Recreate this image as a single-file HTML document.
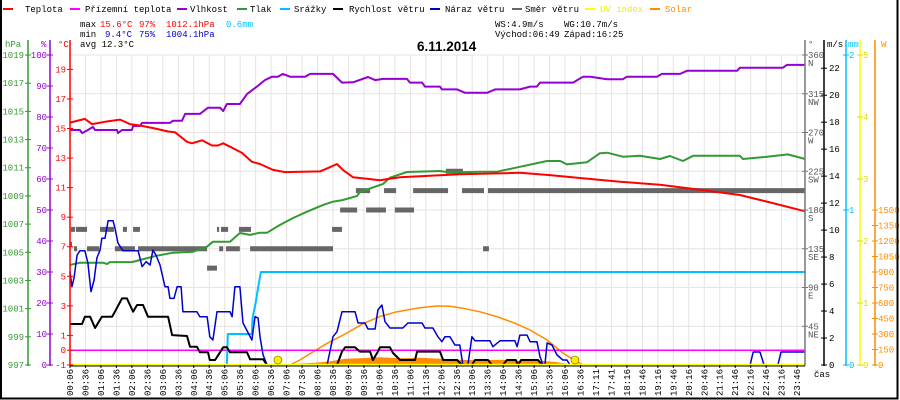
<!DOCTYPE html>
<html><head><meta charset="utf-8"><style>
html,body{margin:0;padding:0;background:#fff}
svg{display:block}
text{font-family:"Liberation Mono",monospace;font-size:9px}
</style></head><body>
<svg id="chart" width="900" height="400" viewBox="0 0 900 400" xmlns="http://www.w3.org/2000/svg">
<g id="grid"></g>
<g id="series"></g>
<g id="axes"></g>
<g id="legend">
  <g><rect x="3" y="8" width="10" height="2" fill="#f00"/><text x="25" y="12">Teplota</text></g>
  <g><rect x="70" y="8" width="10" height="2" fill="#f0f"/><text x="85" y="12">Přízemní teplota</text></g>
  <g><rect x="177" y="8" width="10" height="2" fill="#9400d3"/><text x="190" y="12">Vlhkost</text></g>
  <g><rect x="237" y="8" width="10" height="2" fill="#339933"/><text x="250" y="12">Tlak</text></g>
  <g><rect x="280" y="8" width="10" height="2" fill="#00bfff"/><text x="294" y="12">Srážky</text></g>
  <g><rect x="333" y="8" width="10" height="2" fill="#000"/><text x="349" y="12">Rychlost větru</text></g>
  <g><rect x="430" y="8" width="10" height="2" fill="#0000cc"/><text x="445" y="12">Náraz větru</text></g>
  <g><rect x="512" y="8" width="10" height="2" fill="#666"/><text x="525" y="12">Směr větru</text></g>
  <g><rect x="585" y="8" width="10" height="2" fill="#ff0"/><text x="600" y="12" fill="#ee0">UV index</text></g>
  <g><rect x="650" y="8" width="10" height="2" fill="#ff8c00"/><text x="665" y="12" fill="#ff8c00">Solar</text></g>
</g>
<g>
  <text x="80" y="27">max</text><text x="100" y="27" fill="#f00">15.6°C</text><text x="139" y="27" fill="#f00">97%</text><text x="166" y="27" fill="#f00">1012.1hPa</text><text x="226" y="27" fill="#00bfff">0.6mm</text>
  <text x="80" y="37">min</text><text x="105" y="37" fill="#0000cc">9.4°C</text><text x="139" y="37" fill="#0000cc">75%</text><text x="166" y="37" fill="#0000cc">1004.1hPa</text>
  <text x="80" y="47">avg 12.3°C</text>
  <text x="495" y="27">WS:4.9m/s</text><text x="564" y="27">WG:10.7m/s</text>
  <text x="495" y="37">Východ:06:49</text><text x="564" y="37">Západ:16:25</text>
</g>
<text x="417" y="51" style="font-family:'Liberation Sans',sans-serif;font-weight:bold;font-size:13.5px">6.11.2014</text>
<text x="814" y="377">čas</text>
<path d="M1,0V398.5H897.5V0" fill="none" stroke="#000" stroke-width="2"/>
</svg>
<script>
// ---- data ----
const timeLabels = ["00:06","00:36","01:06","01:36","02:06","02:36","03:06","03:36","04:06","04:36","05:06","05:36","06:06","06:36","07:06","07:36","08:06","08:36","09:06","09:36","10:06","10:36","11:06","11:36","12:06","12:36","13:06","13:36","14:06","14:36","15:06","15:36","16:06","16:36","17:11","17:41","18:16","18:46","19:16","19:46","20:16","20:46","21:16","21:46","22:16","22:46","23:16","23:46"];
const tempT = [0.1,0.58,0.81,1.23,1.72,2.04,2.36,2.85,3.27,3.49,3.88,4.04,4.37,4.69,4.88,5.05,5.34,5.66,5.98,6.24,6.66,7.05,8.18,8.41,8.73,8.92,9.25,10.12,10.77,12.7,14.64,15.61,16.58,17.88,19.17,20.46,21.75,22.72,23.86];
const tempV = [15.4,15.65,15.3,15.45,15.6,15.3,15.2,15.0,14.8,14.75,14.1,14.0,14.2,13.85,13.85,14.0,13.7,13.35,12.75,12.6,12.2,12.05,12.1,12.3,12.6,12.2,11.7,11.5,11.7,11.9,12.0,11.85,11.65,11.4,11.2,10.85,10.5,10.0,9.4];
const groundT = [0.1,23.86];
const groundV = [0,0];
const humT = [0.1,0.42,0.49,0.68,0.84,0.91,1.62,1.65,1.78,2.1,2.14,2.36,2.43,3.33,3.43,3.72,3.82,4.3,4.56,4.95,5.05,5.17,5.59,5.82,6.14,6.4,6.63,6.82,6.98,7.21,7.7,7.86,8.6,8.89,9.25,9.73,9.96,10.22,10.99,11.09,11.48,11.57,12.06,12.12,12.61,12.87,13.58,13.84,14.64,14.97,15.19,15.29,16.36,16.68,16.91,17.46,17.97,18.1,19.07,19.23,19.82,20.04,21.66,21.75,23.14,23.27,23.86];
const humV = [75.8,75.8,74.8,75.8,76.8,75.8,75.8,74.8,75.8,75.8,77.1,77.1,78.1,78.1,78.8,78.8,81,81,83,83,81.9,84.2,84.2,87.4,89.8,91.9,93,93,93.9,93,93,93.9,93.9,91.1,91.2,92.9,91.9,92.3,92.3,91.1,91.1,89.8,89.8,88.9,88.9,87.8,87.8,88.9,88.9,89.8,89.8,91.1,91.1,93,93,92.2,92.2,93,93,93.9,93.9,94.9,94.9,95.9,95.9,96.8,96.8];
const presT = [0.1,0.42,1.17,1.3,1.39,2.1,2.36,2.91,3.43,4.08,4.53,4.72,5.27,5.59,5.92,6.24,6.47,6.89,7.31,7.76,8.28,8.6,8.92,9.38,9.47,10.22,10.44,10.99,12.06,12.38,13.35,13.9,14.64,15.52,15.94,16.16,16.81,17.23,17.46,17.97,18.52,19.17,19.49,19.91,20.24,21.75,21.85,22.56,23.3,23.86];
const presV = [1004.1,1004.26,1004.26,1004.17,1004.3,1004.3,1004.45,1004.76,1004.97,1005.04,1005.4,1005.75,1005.75,1006.37,1006.23,1006.39,1006.39,1006.94,1007.43,1007.88,1008.36,1008.59,1008.71,1009.0,1009.28,1009.85,1010.29,1010.7,1010.77,1010.66,1010.72,1010.72,1011.07,1011.48,1011.48,1011.24,1011.39,1012.03,1012.07,1011.78,1011.85,1011.62,1011.83,1011.48,1011.85,1011.85,1011.62,1011.76,1011.95,1011.62];
const rainT = [0.1,5.17,5.2,5.98,6.0,6.1,6.18,6.27,23.86];
const rainV = [0,0,0.2,0.2,0.3,0.4,0.5,0.6,0.6];
const windT = [0.1,0.49,0.58,0.75,0.91,1.13,1.46,1.55,1.78,1.94,2.14,2.27,2.46,2.62,3.27,3.4,3.88,3.98,4.2,4.3,4.56,4.62,4.79,5.05,5.17,5.27,5.82,5.92,6.34,6.47,8.73,8.89,8.99,9.31,9.47,9.8,9.89,10.05,10.12,10.44,10.54,10.77,11.25,11.32,12.06,12.16,12.61,12.77,13.09,13.19,13.61,13.74,14.09,14.22,14.51,14.58,14.68,15.23,15.36,23.86];
const windV = [3.04,3.04,3.58,3.58,2.74,3.58,3.58,3.95,4.94,4.94,3.95,4.45,4.45,3.58,3.58,2.22,2.15,1.36,1.36,0.94,0.94,0.37,0.37,1.31,1.31,0.94,0.94,0.42,0.42,0,0,0.99,1.31,1.31,0.99,0.99,0.37,0.99,1.31,1.31,0.89,0.37,0.37,0.99,0.99,0.37,0.37,0,0,0.37,0.37,0,0,0.37,0.37,0,0.37,0.37,0,0];
const gustT = [0.1,0.16,0.23,0.33,0.42,0.58,0.68,0.78,0.88,0.97,1.07,1.13,1.23,1.33,1.49,1.55,1.65,1.81,2.3,2.43,2.56,2.69,2.78,2.88,3.01,3.17,3.27,3.33,3.46,3.56,3.69,3.75,4.2,4.3,4.53,4.62,4.72,4.85,5.27,5.34,5.43,5.59,5.69,5.98,6.08,6.18,6.24,6.34,6.47,8.41,8.6,8.73,8.89,9.31,9.41,9.63,9.73,9.96,10.05,10.18,10.28,10.44,10.86,11.02,11.48,11.57,11.83,11.99,12.12,12.22,12.38,12.54,12.7,12.8,12.96,13.09,13.19,13.67,13.77,14.0,14.48,14.55,14.64,14.87,14.97,15.19,15.29,15.39,15.45,15.52,15.68,15.84,16.03,16.16,16.26,22.08,22.18,22.4,22.53,22.98,23.08,23.86];
const gustV = [6.92,5.8,6.45,8.15,8.47,8.47,7.56,5.43,6.3,7.93,8.52,9.39,9.39,10.7,10.7,10.16,9.04,8.47,8.47,7.29,7.66,7.41,8.52,8.15,7.41,5.8,5.8,4.94,4.94,5.8,5.8,3.95,3.95,3.58,3.58,2.1,1.85,3.95,3.95,3.58,5.8,5.8,3.11,1.85,3.58,3.48,2.1,0.74,0,0,2.1,2.47,3.95,3.95,3.11,3.11,2.67,2.67,4.08,4.45,3.21,2.74,2.74,3.11,3.11,2.74,2.74,2.1,1.73,2.1,2.1,1.48,1.48,0,0,2.1,1.8,1.8,1.36,1.8,1.8,1.36,2.22,2.22,1.73,1.73,0.62,0,0,1.63,1.48,0.74,0.37,0.37,0,0,0.96,0.96,0,0,0.96,0.96];
const dirStart = [0.13,0.29,1.07,1.81,2.14,4.85,4.98,5.56,8.57,0.1,0.23,0.65,1.55,2.3,4.92,5.14,5.92,13.45,4.53,8.83,9.67,10.6,9.34,10.25,11.19,12.77,13.61,12.25];
const dirEnd   = [0.26,0.65,1.52,1.94,2.36,4.92,5.21,5.95,8.89,0.16,0.33,1.04,2.2,4.53,5.05,5.59,8.6,13.64,4.85,9.38,10.31,11.22,9.8,10.64,12.32,13.48,23.86,12.8];
const dirDeg   = [157.5,157.5,157.5,157.5,157.5,157.5,157.5,157.5,157.5,140,135,135,135,135,135,135,135,135,112.5,180,180,180,202.5,202.5,202.5,202.5,202.5,225];
const solarT = [7.21,7.53,7.96,8.41,8.99,9.57,10.12,10.67,11.41,11.96,12.38,12.8,13.35,13.9,14.48,14.97,15.52,16.03,16.49,16.68];
const solarV = [0,48,129,210,300,400,470,516,555,571,568,549,515,468,405,339,242,116,32,0];
const solar2T = [7.2,7.53,8.02,8.5,8.99,9.47,10.12,10.77,11.41,12.06,12.7,13.35,13.99,14.64,15.29,15.77,16.1,16.42];
const solar2V = [0,15,22,35,60,66,75,66,70,60,50,45,50,40,40,30,15,0];
const uvT = [0.1,23.86];
const uvV = [0,0];
const sunEvents = [6.82,16.42];
const tempTicks = [-1,0,1,3,5,7,9,11,13,15,17,19];
const humTicks = [0,10,20,30,40,50,60,70,80,90,100];
const presTicks = [997,999,1001,1003,1005,1007,1009,1011,1013,1015,1017,1019];
const dirTicks = [45,90,135,180,225,270,315,360];
const dirNames = ["NE","E","SE","S","SW","W","NW","N"];
const windTicks = [0,2,4,6,8,10,12,14,16,18,20,22];
const rainTicks = [0,1,2];
const uvTicks = [0,1,2,3,4,5];
const solarTicks = [0,150,300,450,600,750,900,1050,1200,1350,1500];

// ---- scales ----
const X = h => 70 + (h - 0.1) * 30.94;
const yT = t => 350.2 - t * 14.78;
const yH = p => 365 - p * 3.1;
const yP = v => 365 - (v - 997) * 14.09;
const yW = v => 365 - v * 13.49;
const yD = d => 365 - d * 0.8611;
const yR = v => 365 - v * 155;
const yU = v => 365 - v * 62;
const yS = v => 365 - v * 0.10333;

const NS = "http://www.w3.org/2000/svg";
const gGrid = document.getElementById('grid');
const gSer = document.getElementById('series');
const gAx = document.getElementById('axes');
function mk(tag, attrs, parent) {
  const e = document.createElementNS(NS, tag);
  for (const k in attrs) e.setAttribute(k, attrs[k]);
  parent.appendChild(e);
  return e;
}
function pts(ts, vs, fy) { return ts.map((t, i) => X(t).toFixed(1) + ',' + fy(vs[i]).toFixed(1)).join(' '); }

// grid
for (let k = 0; k <= 8; k++) {
  const l = mk('line', {x1: 70, x2: 805, y1: 55 + k * 38.75, y2: 55 + k * 38.75, stroke: '#e8e2e2', 'stroke-width': 1}, gGrid);
  
  
}
timeLabels.forEach((lab, i) => {
  const x = 70 + i * 15.47;
  const l = mk('line', {x1: x, x2: x, y1: 55, y2: 365, stroke: '#e8e2e2', 'stroke-width': 1}, gGrid);
  
  
  const tk = mk('line', {x1: x, x2: x, y1: 365, y2: 368, stroke: '#000'}, gAx);
  
  
  const tx = mk('text', {x: 0, y: 0, transform: 'translate(' + (x + 3) + ',369) rotate(-90)', 'text-anchor': 'end'}, gAx);
  tx.textContent = lab;
  
  
});

// series
const fill2 = mk('polygon', {points: pts(solar2T, solar2V, yS) + ' ' + X(solar2T[solar2T.length-1]) + ',365 ' + X(solar2T[0]) + ',365', fill: '#ff8c00'}, gSer);


dirDeg.forEach((d, i) => {
  const r = mk('rect', {x: X(dirStart[i]), y: yD(d) - 2.5, width: Math.max(2, X(dirEnd[i]) - X(dirStart[i])), height: 5, fill: '#666'}, gSer);
  
  
});
function line(ts, vs, fy, color, w, name) {
  const p = mk('polyline', {points: pts(ts, vs, fy), fill: 'none', stroke: color, 'stroke-width': w, 'stroke-linejoin': 'round'}, gSer);
  
  
}
line(solarT, solarV, yS, '#ff8c00', 1.5, 'solar-line');
line(presT, presV, yP, '#339933', 2, 'pressure-line');
line(humT, humV, yH, '#9400d3', 2, 'humidity-line');
line(tempT, tempV, yT, '#ff0000', 2, 'temperature-line');
line(groundT, groundV, yT, '#ff00ff', 1.5, 'ground-temperature-line');
line(rainT, rainV, yR, '#00bfff', 2, 'precipitation-line');
line(gustT, gustV, yW, '#0000cc', 1.5, 'wind-gust-line');
line(windT, windV, yW, '#000000', 2, 'wind-speed-line');
line(uvT, uvV, yU, '#ffff00', 2.5, 'uv-index-line');
sunEvents.forEach(h => {
  const c = mk('circle', {cx: X(h), cy: 360, r: 4, fill: '#ffee00', stroke: '#665500', 'stroke-width': 0.6}, gSer);
  
  
});

// axes
function vaxis(x, color, name, top) {
  const l = mk('line', {x1: x, x2: x, y1: top, y2: 366, stroke: color, 'stroke-width': 1.5}, gAx);
  
  
}
function ticks(vals, fy, x, color, tx, anchor, name, labs) {
  vals.forEach((v, i) => {
    const y = fy(v);
    const t = mk('line', {x1: x - 3, x2: x + 3, y1: y, y2: y, stroke: color}, gAx);
    
    
    const s = mk('text', {x: tx, y: y + 3, fill: color, 'text-anchor': anchor}, gAx);
    s.textContent = labs ? labs[i] : v;
    
    
  });
}
vaxis(28, '#339933', 'pressure-axis', 40);
vaxis(50, '#9400d3', 'humidity-axis', 40);
vaxis(70, '#ff0000', 'temperature-axis', 40);
vaxis(805, '#777', 'direction-axis', 40);
vaxis(824, '#000', 'wind-axis', 40);
vaxis(846, '#00bfff', 'rain-axis', 40);
vaxis(860, '#ffff00', 'uv-axis', 40);
vaxis(875, '#ff8c00', 'solar-axis', 40);
mk('line', {x1: 70, x2: 805, y1: 366, y2: 366, stroke: '#000'}, gAx);
ticks(presTicks, yP, 28, '#339933', 24, 'end', 'pressure');
ticks(humTicks, yH, 50, '#9400d3', 47, 'end', 'humidity');
ticks(tempTicks, yT, 70, '#ff0000', 66, 'end', 'temperature');
ticks(windTicks, yW, 824, '#000', 829, 'start', 'wind');
ticks(rainTicks, yR, 846, '#00bfff', 849, 'start', 'rain');
ticks(uvTicks, yU, 860, '#dddd00', 863, 'start', 'uv');
ticks(solarTicks, yS, 875, '#ff8c00', 878, 'start', 'solar');
dirTicks.forEach((d, i) => {
  const y = yD(d);
  const t = mk('line', {x1: 802, x2: 808, y1: y, y2: y, stroke: '#777'}, gAx);
  
  
  const a = mk('text', {x: 808, y: y + 3, fill: '#555'}, gAx);
  a.textContent = d;
  
  
  const b = mk('text', {x: 808, y: y + 11, fill: '#555'}, gAx);
  b.textContent = dirNames[i];
  
  
});
[['hPa', 5, '#339933'], ['%', 41, '#9400d3'], ['°C', 58, '#ff0000'], ['°', 808, '#555'], ['m/s', 827, '#000'], ['mm', 848, '#00bfff'], ['W', 881, '#ff8c00']].forEach(u => {
  const s = mk('text', {x: u[1], y: 47, fill: u[2]}, gAx);
  s.textContent = u[0];
  
  
});
</script>
</body></html>
